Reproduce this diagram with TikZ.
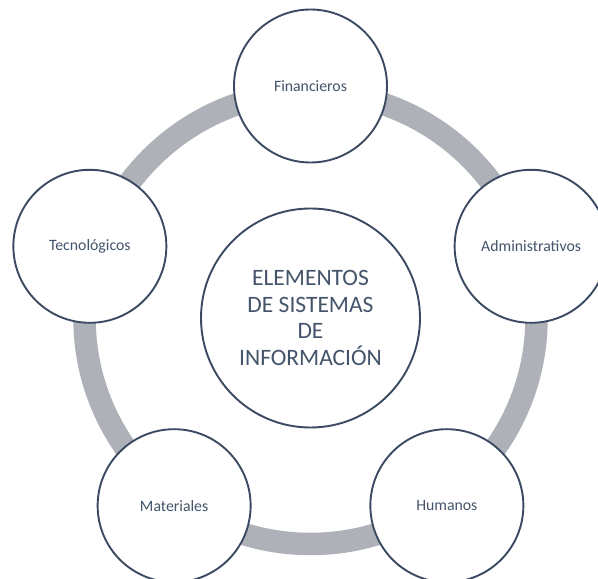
\documentclass[tikz,border=0pt]{standalone}
\usepackage{fontspec}
\setmainfont{Carlito}
\usetikzlibrary{calc}
\definecolor{ringgray}{HTML}{AEB1B8}
\definecolor{edgeblue}{HTML}{3B4A62}
\definecolor{textblue}{HTML}{44546A}
\tikzset{
  ring/.style={draw=ringgray, line width=22.5pt},
  outercircle/.style={circle, draw=edgeblue, line width=1.9pt, fill=white,
    minimum size=153pt, inner sep=0pt, text=textblue,
    font=\fontsize{15.8}{19}\selectfont},
  centercircle/.style={circle, draw=edgeblue, line width=1.9pt, fill=white,
    minimum size=219pt, inner sep=0pt, text=textblue, align=center,
    font=\fontsize{23.5}{26.8}\selectfont}
}
\begin{document}
\begin{tikzpicture}[x=1pt,y=1pt]
\useasboundingbox (0,0) rectangle (598,579);
\fill[white] (0,0) rectangle (598,579);
\coordinate (O) at (310.5,261);
\draw[ring] (O) circle[radius=226];
\node[centercircle] (centro) at (O) {ELEMENTOS\\DE SISTEMAS\\DE\\INFORMACIÓN};
\node[outercircle] (fin) at ($(O)+(90:232)$) {Financieros};
\node[outercircle] (adm) at ($(O)+(18:232)$) {Administrativos};
\node[outercircle] (hum) at ($(O)+(-54:232)$) {Humanos};
\node[outercircle] (mat) at ($(O)+(-126:232)$) {Materiales};
\node[outercircle] (tec) at ($(O)+(162:232)$) {Tecnológicos};
\end{tikzpicture}
\end{document}
